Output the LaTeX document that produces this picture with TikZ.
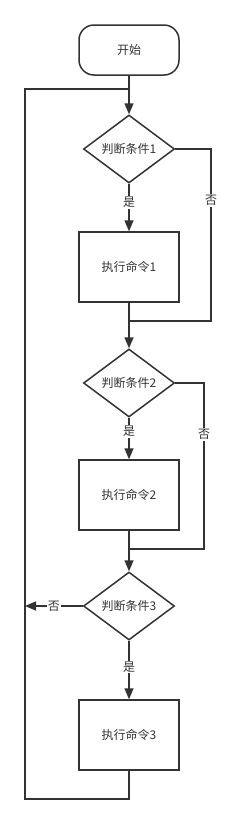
\documentclass[tikz,border=0pt]{standalone}
\usepackage{fontspec}
\newfontfamily\cjk{Noto Sans CJK SC}
\usetikzlibrary{shapes.geometric,arrows.meta}
\definecolor{ink}{HTML}{333333}
\tikzset{
  flow/.style={draw=ink,line width=1.5pt,text=ink,font=\cjk\fontsize{12}{14}\selectfont},
  startbox/.style={flow,rectangle,rounded corners=15pt,minimum width=100pt,minimum height=50pt},
  cmdbox/.style={flow,rectangle,minimum width=100pt,minimum height=70pt},
  testbox/.style={flow,diamond,aspect=1.34,minimum width=91pt,minimum height=68pt,inner sep=0pt},
  lbl/.style={fill=white,text=ink,inner sep=1pt,font=\cjk\fontsize{12}{14}\selectfont},
  link/.style={draw=ink,line width=1.5pt},
  arr/.style={link,-{Triangle[length=11pt,width=9pt]}}
}
\begin{document}
\begin{tikzpicture}[x=1pt,y=-1pt]
\useasboundingbox (0,0) rectangle (236,825);
\node[startbox] (start) at (129,50) {开始};
\node[testbox] (d1) at (129,149) {判断条件1};
\node[cmdbox] (b1) at (129,267) {执行命令1};
\node[testbox] (d2) at (129,383) {判断条件2};
\node[cmdbox] (b2) at (129,495) {执行命令2};
\node[testbox] (d3) at (129,606) {判断条件3};
\node[cmdbox] (b3) at (129,735) {执行命令3};
\coordinate (top) at (129,89);
\coordinate (tl) at (25,89);
\coordinate (bl) at (25,799);
\coordinate (bot) at (129,799);
\coordinate (left3) at (25,606);
\coordinate (r1) at (211,149);
\coordinate (r1a) at (211,321);
\coordinate (m1) at (129,321);
\coordinate (r2) at (204,383);
\coordinate (r2a) at (204,549);
\coordinate (m2) at (129,549);
\draw[arr] (start) -- (d1);
\draw[arr] (d1) -- node[lbl,pos=0.39] {是} (b1);
\draw[link] (d1.east) -- (r1) -- node[lbl,pos=0.3] {否} (r1a) -- (m1);
\draw[link] (b1) -- (m1);
\draw[arr] (m1) -- (d2);
\draw[arr] (d2) -- node[lbl,pos=0.33] {是} (b2);
\draw[link] (d2.east) -- (r2) -- node[lbl,pos=0.31] {否} (r2a) -- (m2);
\draw[link] (b2) -- (m2);
\draw[arr] (m2) -- (d3);
\draw[arr] (d3) -- node[lbl,pos=0.45] {是} (b3);
\draw[arr] (d3.west) -- node[lbl,pos=0.5] {否} (left3);
\draw[link] (b3) -- (bot) -- (bl) -- (tl) -- (top);
\end{tikzpicture}
\end{document}
